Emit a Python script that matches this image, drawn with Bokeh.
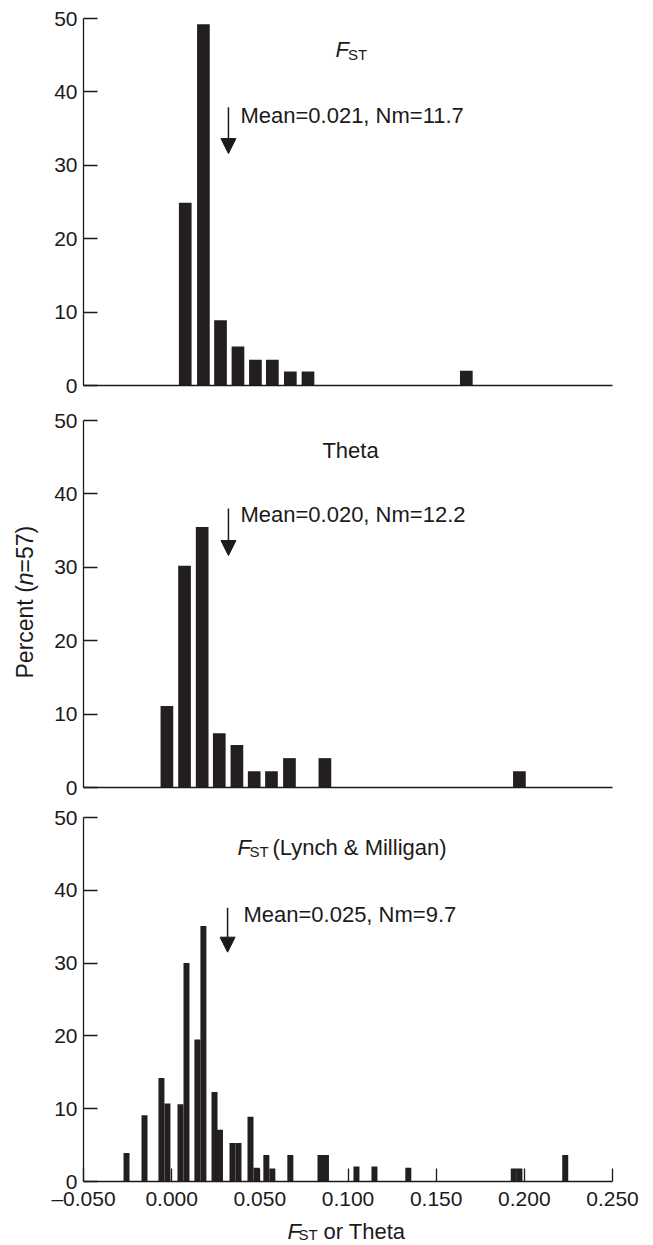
from bokeh.plotting import figure
from bokeh.layouts import column, row
from bokeh.models import Range1d, FixedTicker, Label, Arrow, NormalHead, CustomJSTickFormatter
from bokeh.core.properties import value
from bokeh.embed import file_html
from bokeh.resources import INLINE
import math

# ---------------- data ----------------
fst_x = [0.0077, 0.0180, 0.0277, 0.0376, 0.0475, 0.0571, 0.0673, 0.0773, 0.1671]
fst_pct = [24.9, 49.2, 8.9, 5.3, 3.5, 3.5, 1.9, 1.9, 2.0]

theta_x = [-0.0027, 0.0073, 0.0173, 0.0270, 0.0370, 0.0468, 0.0566, 0.0668, 0.0869, 0.1972]
theta_pct = [11.1, 30.2, 35.5, 7.4, 5.8, 2.2, 2.2, 4.0, 4.0, 2.2]

lm_x = [-0.0256, -0.0154, -0.0058, -0.0024, 0.0050, 0.0084, 0.0146, 0.0180, 0.0243,
        0.0274, 0.0345, 0.0379, 0.0447, 0.0481, 0.0537, 0.0571, 0.0673, 0.0844,
        0.0875, 0.1048, 0.1150, 0.1342, 0.1940, 0.1972, 0.2232]
lm_pct = [3.9, 9.1, 14.2, 10.7, 10.6, 30.0, 19.5, 35.1, 12.3,
          7.1, 5.3, 5.3, 8.9, 1.9, 3.65, 1.8, 3.65, 3.65,
          3.65, 2.05, 2.05, 1.9, 1.8, 1.8, 3.65]

titles = ["FST", "Theta", "FST (Lynch & Milligan)"]
means = ["Mean=0.021, Nm=11.7", "Mean=0.020, Nm=12.2", "Mean=0.025, Nm=9.7"]
y_ticks = [0, 10, 20, 30, 40, 50]
x_ticks = [-0.05, 0.0, 0.05, 0.10, 0.15, 0.20, 0.25]
y_title = ["Percent (", "n", "=57)"]
x_title = ["F", "ST", "or Theta"]

FONT = "Liberation Sans"
INK = "#1c1a1b"
BAR = "#231f20"
BL, BR = 43, 41   # borders of the main figures (strip of 40 px on the left)
DY = 1.15         # text lift (percent units)


def bare(p):
    p.outline_line_color = None
    p.grid.visible = False
    p.background_fill_color = "white"
    p.border_fill_color = "white"


def make_fig(height, btop, bbot, show_x):
    p = figure(width=613, height=height, output_backend="svg", toolbar_location=None,
               x_range=Range1d(-0.05, 0.25), y_range=Range1d(0, 50),
               min_border_left=BL, min_border_right=BR,
               min_border_top=btop, min_border_bottom=bbot)
    bare(p)
    ya = p.yaxis[0]
    ya.ticker = FixedTicker(ticks=y_ticks)
    ya.major_tick_in = 14
    ya.major_tick_out = 0
    ya.minor_tick_in = 0
    ya.minor_tick_out = 0
    ya.major_label_standoff = 6
    ya.major_label_text_font = FONT
    ya.major_label_text_font_size = "21px"
    ya.major_label_text_color = INK
    ya.axis_line_color = INK
    ya.axis_line_width = 1.3
    ya.major_tick_line_color = INK
    ya.major_tick_line_width = 1.3
    xa = p.xaxis[0]
    xa.axis_line_color = INK
    xa.axis_line_width = 1.5
    xa.minor_tick_in = 0
    xa.minor_tick_out = 0
    xa.major_tick_in = 0
    xa.major_tick_out = 0
    xa.major_label_text_font = FONT
    xa.major_label_text_font_size = "21px"
    xa.major_label_text_color = INK
    if show_x:
        xa.ticker = FixedTicker(ticks=x_ticks)
        xa.formatter = CustomJSTickFormatter(
            code="return (tick < -1e-9 ? '\u2013' : '') + Math.abs(tick).toFixed(3);")
        xa.major_tick_in = 13
        xa.major_tick_line_color = INK
        xa.major_tick_line_width = 1.3
        xa.major_label_standoff = 5
    else:
        xa.ticker = FixedTicker(ticks=[])
        xa.major_label_standoff = 0
    return p


def lab(p, x, y, text, size="22px", style="normal"):
    p.add_layout(Label(x=x, y=y + DY, text=text, text_font=FONT, text_font_size=size,
                       text_font_style=style, text_color=INK, text_align="left",
                       text_baseline="alphabetic"))


def arrow(p, x, y0, y1):
    p.add_layout(Arrow(x_start=x, y_start=y0, x_end=x, y_end=y1, line_color=INK, line_width=1.5,
                       end=NormalHead(size=15, fill_color=INK, line_color=INK, line_width=1)))


# ---------------- top: FST ----------------
p1 = make_fig(400, 18, 15, False)
p1.vbar(x=fst_x, top=fst_pct, width=0.0072, bottom=0, fill_color=BAR, line_color=None)
lab(p1, 0.0929, 44.6, "F", style="italic")
lab(p1, 0.1000, 44.0, "ST", size="15px")
arrow(p1, 0.0322, 37.9, 31.6)
lab(p1, 0.0390, 35.7, means[0])

# ---------------- middle: Theta ----------------
p2 = make_fig(405, 20, 18, False)
p2.vbar(x=theta_x, top=theta_pct, width=0.0072, bottom=0, fill_color=BAR, line_color=None)
lab(p2, 0.0855, 44.7, titles[1])
arrow(p2, 0.0322, 38.0, 31.6)
lab(p2, 0.0390, 36.0, means[1])

# ---------------- bottom: FST (Lynch & Milligan) ----------------
p3 = make_fig(407, 12, 30, True)
p3.vbar(x=lm_x, top=lm_pct, width=0.0034, bottom=0, fill_color=BAR, line_color=None)
lab(p3, 0.0373, 44.75, "F", style="italic")
lab(p3, 0.0441, 44.2, "ST", size="15px")
lab(p3, 0.0572, 44.75, "(Lynch & Milligan)")
arrow(p3, 0.0317, 37.6, 31.5)
lab(p3, 0.0407, 35.5, means[2])

# ---------------- x-axis title strip ----------------
pt = figure(width=613, height=33, output_backend="svg", toolbar_location=None,
            x_range=Range1d(-0.05, 0.25), y_range=Range1d(0, 33),
            min_border_left=BL, min_border_right=BR, min_border_top=0, min_border_bottom=0)
bare(pt)
pt.axis.visible = False
pt.text(x=[0.0657], y=[14], text=[x_title[0]], text_font=value(FONT), text_font_size="22px",
        text_font_style="italic", text_color=INK, text_baseline="alphabetic")
pt.text(x=[0.0719], y=[11], text=[x_title[1]], text_font=value(FONT), text_font_size="15px",
        text_color=INK, text_baseline="alphabetic")
pt.text(x=[0.0861], y=[14], text=[x_title[2]], text_font=value(FONT), text_font_size="22px",
        text_color=INK, text_baseline="alphabetic")

# ---------------- y-axis title strip ----------------
ps = figure(width=40, height=1245, output_backend="svg", toolbar_location=None,
            x_range=Range1d(0, 40), y_range=Range1d(1245, 0),
            min_border_left=0, min_border_right=0, min_border_top=0, min_border_bottom=0)
bare(ps)
ps.axis.visible = False
ys = [678, 584.7, 571.9]
styles = ["normal", "italic", "normal"]
for t, yy, st in zip(y_title, ys, styles):
    ps.text(x=[24], y=[yy], text=[t], angle=math.pi / 2, text_font=value(FONT),
            text_font_size="23px", text_font_style=st, text_color=INK,
            text_align="left", text_baseline="middle")

layout = row(ps, column(p1, p2, p3, pt, spacing=0), spacing=0)
open("out.html", "w").write(file_html(layout, INLINE))
